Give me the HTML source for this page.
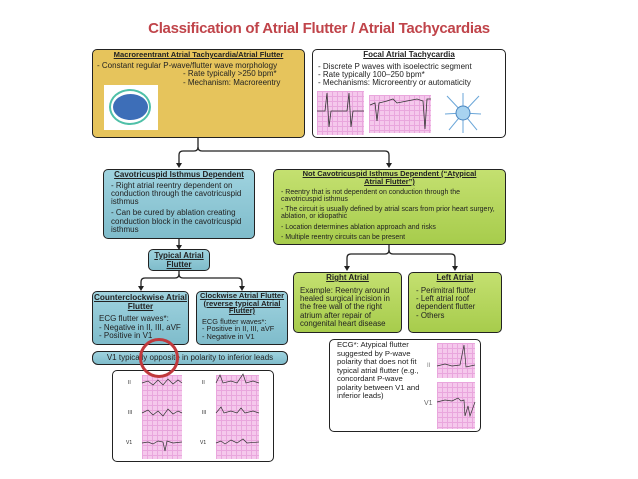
<!DOCTYPE html>
<html><head><style>
body{margin:0;width:638px;height:479px;background:#fff;position:relative;font-family:"Liberation Sans",Arial,sans-serif;overflow:hidden}
.b{position:absolute;box-sizing:border-box;border:1.5px solid #222;border-radius:5px;font-size:8px;line-height:8.5px;color:#222}
.h{text-align:center;font-weight:bold;text-decoration:underline;font-size:8px;line-height:8.5px}
.t{position:absolute;font-size:7px;line-height:8px;color:#222}
.g{background:#e6c45c}
.bl{background:linear-gradient(#9fd3df,#7fbccb)}
.gr{background:linear-gradient(#c4e070,#a7cc4c)}
.w{background:#fff}
.ecg{position:absolute;background:#f5c8ec;background-image:linear-gradient(#e9a6dd 1px,transparent 1px),linear-gradient(90deg,#e9a6dd 1px,transparent 1px);background-size:5px 5px}
</style></head><body>
<div style="position:absolute;left:0;width:638px;top:20px;text-align:center;color:#c0444a;font-weight:bold;font-size:15px;letter-spacing:-0.3px">Classification of Atrial Flutter / Atrial Tachycardias</div>

<div class="b g" style="left:92px;top:49px;width:213px;height:89px">
<div class="h" style="margin-top:1px;font-size:7.6px">Macroreentrant Atrial Tachycardia/Atrial Flutter</div>
<div style="padding-left:4px;margin-top:2px">- Constant regular P-wave/flutter wave morphology</div>
<div style="padding-left:90px">- Rate typically &gt;250 bpm*<br>- Mechanism: Macroreentry</div>
<div style="position:absolute;left:11px;top:35px;width:54px;height:45px;background:#fff"><div style="position:absolute;left:5px;top:4px;width:42px;height:36px;border:2.5px solid #4fc0a8;border-radius:50%;box-sizing:border-box"></div><div style="position:absolute;left:9px;top:9px;width:35px;height:26px;background:#3d6eb8;border-radius:50%"></div></div>
</div>

<div class="b w" style="left:312px;top:49px;width:194px;height:89px">
<div class="h" style="margin-top:1px">Focal Atrial Tachycardia</div>
<div style="padding-left:5px;margin-top:3px;line-height:8px">- Discrete P waves with isoelectric segment<br>- Rate typically 100–250 bpm*<br>- Mechanisms: Microreentry or automaticity</div>
<div class="ecg" style="left:4px;top:41px;width:47px;height:44px"></div>
<div class="ecg" style="left:56px;top:45px;width:62px;height:38px"></div>
<svg style="position:absolute;left:4px;top:41px" width="115" height="45"><polyline points="0,20 8,20 10,2 12,36 14,20 30,20 32,2 34,36 36,20 47,20" fill="none" stroke="#333" stroke-width=".8"/><polyline points="53,14 58,12 60,30 62,12 70,10 76,8 80,12 90,10 100,8 106,10 108,38 110,8 114,8" fill="none" stroke="#333" stroke-width=".8"/></svg>
<svg style="position:absolute;left:130px;top:42px" width="40" height="42"><g stroke="#6aa6d8" stroke-width="1"><line x1="20" y1="21" x2="4" y2="4"/><line x1="20" y1="21" x2="36" y2="4"/><line x1="20" y1="21" x2="2" y2="22"/><line x1="20" y1="21" x2="38" y2="22"/><line x1="20" y1="21" x2="6" y2="38"/><line x1="20" y1="21" x2="34" y2="38"/><line x1="20" y1="21" x2="20" y2="1"/><line x1="20" y1="21" x2="20" y2="41"/></g><circle cx="20" cy="21" r="7" fill="#a8d3f0" stroke="#4a86c0"/></svg>
</div>

<svg style="position:absolute;left:0;top:0" width="638" height="479"><g fill="none" stroke="#222" stroke-width="1.3">
<path d="M198 138 V147 Q198 151 194 151 H183 Q179 151 179 155 V164"/><path d="M198 147 Q198 151 202 151 H385 Q389 151 389 155 V164"/>
<path d="M179 239 V246"/>
<path d="M179 271 V274 Q179 278 175 278 H145 Q141 278 141 282 V287"/><path d="M179 274 Q179 278 183 278 H238 Q242 278 242 282 V287"/>
<path d="M389 245 V250 Q389 254 385 254 H351 Q347 254 347 258 V267"/><path d="M389 250 Q389 254 393 254 H451 Q455 254 455 258 V267"/>
</g><g fill="#222"><path d="M176 163 L182 163 L179 168Z"/><path d="M386 163 L392 163 L389 168Z"/><path d="M176 245 L182 245 L179 250Z"/><path d="M138 286 L144 286 L141 291Z"/><path d="M239 286 L245 286 L242 291Z"/><path d="M344 266 L350 266 L347 271Z"/><path d="M452 266 L458 266 L455 271Z"/></g></svg>

<div class="b bl" style="left:103px;top:169px;width:152px;height:70px">
<div class="h" style="margin-top:1px">Cavotricuspid Isthmus Dependent</div>
<div style="padding:2px 4px 0 7px;font-size:8px;line-height:8.3px">- Right atrial reentry dependent on conduction through the cavotricuspid isthmus<div style="height:3px"></div>- Can be cured by ablation creating conduction block in the cavotricuspid isthmus</div>
</div>

<div class="b gr" style="left:273px;top:169px;width:233px;height:76px">
<div class="h" style="margin-top:0;font-size:7.5px;line-height:7.8px;padding:0 20px">Not Cavotricuspid Isthmus Dependent (“Atypical Atrial Flutter”)</div>
<div style="padding:3px 6px 0 7px;font-size:7px;line-height:7.3px">- Reentry that is not dependent on conduction through the cavotricuspid isthmus<div style="height:3px"></div>- The circuit is usually defined by atrial scars from prior heart surgery, ablation, or idiopathic<div style="height:3px"></div>- Location determines ablation approach and risks<div style="height:3px"></div>- Multiple reentry circuits can be present</div>
</div>

<div class="b bl" style="left:148px;top:249px;width:62px;height:22px"><div class="h" style="margin-top:2px">Typical Atrial Flutter</div></div>

<div class="b bl" style="left:92px;top:291px;width:97px;height:54px">
<div class="h" style="margin-top:2px;font-size:8.2px">Counterclockwise Atrial Flutter</div>
<div style="padding:4px 0 0 6px;font-size:8px">ECG flutter waves*:<br>- Negative in II, III, aVF<br>- Positive in V1</div></div>
<div class="b bl" style="left:196px;top:291px;width:92px;height:54px">
<div class="h" style="margin-top:0;font-size:7.6px;line-height:7.5px">Clockwise Atrial Flutter (reverse typical Atrial Flutter)</div>
<div style="padding:3px 0 0 5px;font-size:7.4px;line-height:7.5px">ECG flutter waves*:<br>- Positive in II, III, aVF<br>- Negative in V1</div></div>
<div class="b bl" style="left:92px;top:351px;width:196px;height:14px;border-radius:6px;text-align:center;font-size:8px;line-height:11px">V1 typically opposite in polarity to inferior leads</div>

<div class="b w" style="left:112px;top:370px;width:162px;height:92px">
<div class="ecg" style="left:29px;top:4px;width:40px;height:84px"></div>
<div class="ecg" style="left:103px;top:4px;width:43px;height:84px"></div>
<div class="t" style="left:15px;top:8px;font-size:5px">II</div><div class="t" style="left:15px;top:38px;font-size:5px">III</div><div class="t" style="left:13px;top:68px;font-size:5px">V1</div>
<div class="t" style="left:89px;top:8px;font-size:5px">II</div><div class="t" style="left:89px;top:38px;font-size:5px">III</div><div class="t" style="left:87px;top:68px;font-size:5px">V1</div>
<svg style="position:absolute;left:0;top:0" width="160" height="90"><g fill="none" stroke="#333" stroke-width=".7"><polyline points="29,12 35,10 40,14 45,9 50,14 55,8 60,13 65,9 69,12"/><polyline points="29,42 35,39 40,44 45,40 50,45 55,38 60,43 65,40 69,42"/><polyline points="29,72 35,71 40,73 45,70 50,71 52,80 54,70 60,72 69,71"/><polyline points="103,12 107,4 110,12 118,10 124,12 130,3 133,12 140,10 146,12"/><polyline points="103,42 108,36 111,42 118,40 124,42 128,37 132,42 140,40 146,42"/><polyline points="103,72 108,70 112,73 118,69 124,72 130,68 134,72 146,71"/></g></svg>
</div>

<div style="position:absolute;left:139px;top:338px;width:40px;height:40px;border:3px solid #c0393c;border-radius:50%;box-sizing:border-box"></div>

<div class="b gr" style="left:293px;top:272px;width:109px;height:61px">
<div class="h" style="margin-top:1px">Right Atrial</div>
<div style="padding:4px 0 0 6px;font-size:7.9px;line-height:8.4px">Example: Reentry around healed surgical incision in the free wall of the right atrium after repair of congenital heart disease</div></div>
<div class="b gr" style="left:408px;top:272px;width:94px;height:61px">
<div class="h" style="margin-top:1px">Left Atrial</div>
<div style="padding:4px 4px 0 7px;font-size:7.9px;line-height:8.4px">- Perimitral flutter<br>- Left atrial roof dependent flutter<br>- Others</div></div>

<div class="b w" style="left:329px;top:339px;width:152px;height:93px">
<div style="padding:1px 0 0 7px;font-size:7.7px;line-height:8.5px;width:84px">ECG*: Atypical flutter suggested by P-wave polarity that does not fit typical atrial flutter (e.g., concordant P-wave polarity between V1 and inferior leads)</div>
<div class="ecg" style="left:107px;top:3px;width:38px;height:35px"></div>
<div class="ecg" style="left:107px;top:42px;width:38px;height:47px"></div>
<div class="t" style="left:97px;top:22px;font-size:6px;color:#777">II</div><div class="t" style="left:94px;top:60px;font-size:7px;color:#666">V1</div>
<svg style="position:absolute;left:0;top:0" width="150" height="90"><g fill="none" stroke="#333" stroke-width=".7"><polyline points="107,26 115,24 122,26 130,25 134,5 136,27 145,25"/><polyline points="107,62 115,60 122,61 128,58 131,61 134,60 135,76 138,66 140,76 145,62"/></g></svg>
</div>
</body></html>
